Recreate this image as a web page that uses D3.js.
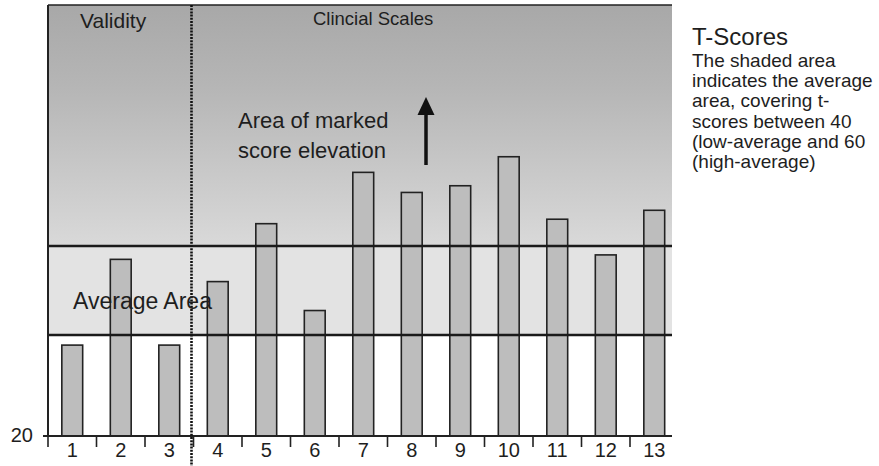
<!DOCTYPE html>
<html>
<head>
<meta charset="utf-8">
<script src="https://cdn.jsdelivr.net/npm/d3@7"></script>
<style>
  html, body { margin: 0; padding: 0; background: #fff; }
  svg { display: block; }
  text { font-family: "Liberation Sans", Arial, sans-serif; fill: #1e1e1e; }
</style>
</head>
<body>
<svg id="chart" width="879" height="466"></svg>
<script>
// ---- data ----
const categories = ["1","2","3","4","5","6","7","8","9","10","11","12","13"];
const scores = [38, 57, 38, 52, 65, 45.5, 76.5, 72, 73.5, 80, 66, 58, 68];
const yTickValues = [20];
const averageBand = [40, 60];
const sectionLabels = ["Validity", "Clincial Scales"];
const validityCount = 3;
const legendTitle = "T-Scores";
const legendLines = ["The shaded area", "indicates the average", "area, covering t-",
  "scores between 40", "(low-average and 60", "(high-average)"];

// ---- layout ----
const W = 879, H = 466;
const plot = { left: 48, right: 672, top: 5, bottom: 436 };
const svg = d3.select("#chart");

const x = d3.scaleBand().domain(categories).range([48, 678.5]).paddingInner(0.57).paddingOuter(0.285);
const step = x.step();
const y = d3.scaleLinear().domain([20, 40, 60, 114]).range([436, 335, 246, 5]);

const defs = svg.append("defs");
const grad = defs.append("linearGradient").attr("id", "elev").attr("x1", 0).attr("y1", 0).attr("x2", 0).attr("y2", 1);
grad.append("stop").attr("offset", "0%").attr("stop-color", "#a8a8a8");
grad.append("stop").attr("offset", "35%").attr("stop-color", "#b6b6b6");
grad.append("stop").attr("offset", "100%").attr("stop-color", "#d9d9d9");

// elevated area (above 60)
svg.append("rect")
  .attr("x", plot.left).attr("y", y(114))
  .attr("width", plot.right - plot.left).attr("height", y(averageBand[1]) - y(114))
  .attr("fill", "url(#elev)");
// average band
svg.append("rect")
  .attr("x", plot.left).attr("y", y(averageBand[1]))
  .attr("width", plot.right - plot.left).attr("height", y(averageBand[0]) - y(averageBand[1]))
  .attr("fill", "#e3e3e3");

// bars
svg.append("g").selectAll("rect").data(scores).join("rect")
  .attr("x", (d, i) => x(categories[i]))
  .attr("y", d => y(d))
  .attr("width", x.bandwidth())
  .attr("height", d => y(20) - y(d))
  .attr("fill", "#bdbdbd")
  .attr("stroke", "#222").attr("stroke-width", 1.6);

// band lines
svg.append("g").selectAll("line").data(averageBand).join("line")
  .attr("x1", plot.left).attr("x2", plot.right)
  .attr("y1", d => y(d)).attr("y2", d => y(d))
  .attr("stroke", "#1a1a1a").attr("stroke-width", 2.6);

// frame: top and left
svg.append("line").attr("x1", plot.left).attr("x2", plot.right).attr("y1", plot.top).attr("y2", plot.top)
  .attr("stroke", "#222").attr("stroke-width", 1.5);
svg.append("line").attr("x1", plot.left).attr("x2", plot.left).attr("y1", plot.top).attr("y2", plot.bottom)
  .attr("stroke", "#222").attr("stroke-width", 2);

// x axis line + ticks at band boundaries
svg.append("line").attr("x1", 43).attr("x2", plot.right).attr("y1", y(20)).attr("y2", y(20))
  .attr("stroke", "#222").attr("stroke-width", 2);
const boundaries = categories.map((c, i) => x.range()[0] + i * step);
svg.append("g").selectAll("line").data(boundaries).join("line")
  .attr("x1", d => d).attr("x2", d => d)
  .attr("y1", y(20)).attr("y2", y(20) + 11)
  .attr("stroke", "#222").attr("stroke-width", 1.6);

// x labels
svg.append("g").selectAll("text").data(categories).join("text")
  .attr("x", d => x(d) + x.bandwidth() / 2)
  .attr("y", 457)
  .attr("text-anchor", "middle")
  .attr("font-size", 20)
  .text(d => d);

// y label
svg.append("g").selectAll("text").data(yTickValues).join("text")
  .attr("x", 33).attr("y", d => y(d) + 6)
  .attr("text-anchor", "end").attr("font-size", 20)
  .text(d => d);

// dotted divider between validity & clinical scales
const divX = x.range()[0] + validityCount * step - 2;
svg.append("line").attr("x1", divX).attr("x2", divX).attr("y1", plot.top).attr("y2", H)
  .attr("stroke", "#111").attr("stroke-width", 2.6).attr("stroke-dasharray", "2,1.2");

// section labels
svg.append("text").attr("x", 80).attr("y", 28).attr("font-size", 21).text(sectionLabels[0]);
svg.append("text").attr("x", 313).attr("y", 25).attr("font-size", 18.5).text(sectionLabels[1]);

// annotations
svg.append("text").attr("x", 238).attr("y", 128).attr("font-size", 22).text("Area of marked");
svg.append("text").attr("x", 238).attr("y", 158).attr("font-size", 22).text("score elevation");
svg.append("text").attr("x", 73).attr("y", 309).attr("font-size", 23).text("Average Area");

// arrow
svg.append("line").attr("x1", 426).attr("x2", 426).attr("y1", 165).attr("y2", 112)
  .attr("stroke", "#111").attr("stroke-width", 3.5);
svg.append("path").attr("d", "M417.5,115 L426,97 L434.5,115 Z").attr("fill", "#111");

// legend text
svg.append("text").attr("x", 692).attr("y", 45).attr("font-size", 24).text(legendTitle);
svg.append("g").selectAll("text").data(legendLines).join("text")
  .attr("x", 692).attr("y", (d, i) => 66.7 + i * 20.3)
  .attr("font-size", 19)
  .text(d => d);
</script>
</body>
</html>
